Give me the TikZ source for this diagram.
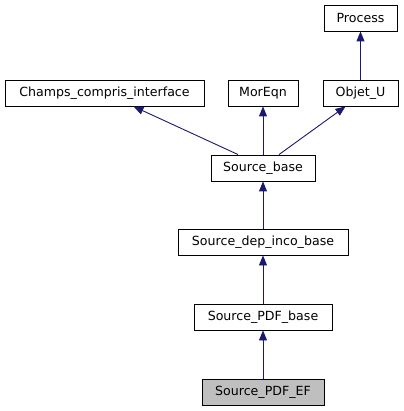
\documentclass[tikz,border=0pt]{standalone}
\usepackage{fontspec}
\setmainfont{DejaVu Sans}
\usetikzlibrary{arrows.meta}
\definecolor{edgecol}{HTML}{191970}
\definecolor{fillgray}{HTML}{BFBFBF}
\tikzset{
  cls/.style={draw=black, line width=0.9pt, inner sep=0pt, minimum height=26pt, font=\fontsize{12.6}{14}\selectfont, anchor=center},
  inh/.style={draw=edgecol, line width=0.9pt, -{Triangle[length=10pt,width=8pt]}},
}
\begin{document}
\begin{tikzpicture}[x=1pt,y=-1pt]
\useasboundingbox (0,0) rectangle (403,411);
\node[cls, minimum width=73pt] (proc) at (360.5,18) {Process};
\node[cls, minimum width=199pt] (champs) at (104.5,93) {Champs\_compris\_interface};
\node[cls, minimum width=70pt] (mor) at (263,93) {MorEqn};
\node[cls, minimum width=75pt] (obj) at (360.5,93) {Objet\_U};
\node[cls, minimum width=104pt] (sb) at (263,168) {Source\_base};
\node[cls, minimum width=170pt] (sdi) at (263,242) {Source\_dep\_inco\_base};
\node[cls, minimum width=138pt] (spb) at (263,317) {Source\_PDF\_base};
\node[cls, minimum width=122pt, fill=fillgray] (spe) at (263,392) {Source\_PDF\_EF};
\draw[inh] (obj.north) -- (proc.south);
\draw[inh] ([xshift=-25pt]sb.north) -- ([xshift=29pt]champs.south);
\draw[inh] (sb.north) -- (mor.south);
\draw[inh] ([xshift=16pt]sb.north) -- ([xshift=-15pt]obj.south);
\draw[inh] (sdi.north) -- (sb.south);
\draw[inh] (spb.north) -- (sdi.south);
\draw[inh] (spe.north) -- (spb.south);
\end{tikzpicture}
\end{document}
